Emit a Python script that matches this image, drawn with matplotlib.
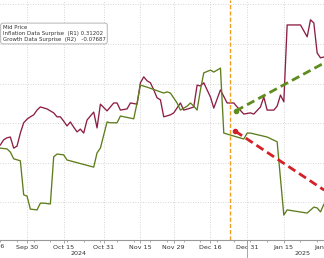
import matplotlib
matplotlib.use("Agg")
import matplotlib.pyplot as plt
import numpy as np

# business-day offsets from 2024-09-30
infl_days = [-8,-7,-6,-5,-4,-3,-2,-1,0,1,2,3,4,6,8,9,10,11,12,13,14,15,16,17,18,20,21,22,24,26,27,28,30,31,33,
             34,35,36,37,38,39,40,41,43,44,46,47,49,50,51,52,53,55,56,58,60,62,63,65,67,68,70,71,72,74,75,76,77,
             78,82,84,85,86,87,88,89]
infl_vals = [2.45,2.58,2.63,2.65,2.37,2.42,2.75,3.01,3.10,3.16,3.21,3.33,3.41,3.36,3.26,3.16,3.16,3.05,2.93,3.03,
             2.90,2.78,2.85,2.75,3.08,3.28,2.88,3.48,3.31,3.51,3.51,3.33,3.36,3.51,3.48,
             4.02,4.17,4.07,4.02,3.84,3.64,3.59,3.16,3.21,3.26,3.51,3.33,3.38,3.41,3.96,3.94,4.02,3.66,3.38,3.84,
             3.51,3.51,3.41,3.23,3.26,3.23,3.41,3.66,3.33,3.33,3.43,3.71,3.54,
             5.48,5.48,5.18,5.61,5.53,4.77,4.65,4.67]

growth_days = [-8,-6,-5,-4,-2,-1,0,1,3,4,5,7,8,9,11,12,20,21,22,24,25,27,28,32,33,34,36,41,42,43,45,46,48,49,50,
               51,52,53,55,56,58,59,65,66,67,72,75,76,77,78,84,86,87,88,89]
growth_vals = [2.37,2.35,2.27,2.10,2.05,1.19,1.16,0.83,0.81,0.98,0.98,0.96,2.15,2.22,2.20,2.07,1.89,2.25,2.37,
               3.03,3.01,3.01,3.18,3.11,3.51,3.96,3.91,3.76,3.79,3.76,3.51,3.33,3.43,3.51,3.43,
               3.33,3.84,4.27,4.34,4.29,4.39,2.75,2.60,2.75,2.75,2.65,2.53,1.60,0.68,0.81,0.73,0.88,0.86,0.76,0.95]

growth_trend_days = [62.6, 89.1]
growth_trend_vals = [3.31, 4.52]
infl_trend_days = [62.4, 89.1]
infl_trend_vals = [2.80, 1.31]

event_day = 61  # Dec 24
tick_labels = ["Sep 30", "Oct 15", "Oct 31", "Nov 15", "Nov 29", "Dec 16", "Dec 31", "Jan 15", "Jan 31"]
tick_days = [0, 11, 23, 34, 44, 55, 66, 77, 89]
edge_label = "Sep 16"
edge_label_day = -10
year_labels = ["2024", "2025"]
year_label_days = [15.6, 82.5]
year_break_day = 66

legend_lines = ["Mid Price",
                "Inflation Data Surprise  (R1) 0.31202",
                "Growth Data Surprise  (R2)   -0.07687"]

RED = "#8c1f45"
GREEN = "#5f7d1c"
TXT = "#333333"

fig = plt.figure(figsize=(3.24, 2.58), dpi=100)
ax = fig.add_axes([0, 18/258, 1, 240/258])
ax.set_xlim(-8.1, 89.05)
ax.set_ylim(0.05, 6.11)

ax.plot(infl_days, infl_vals, color=RED, lw=0.95, zorder=3)
ax.plot(growth_days, growth_vals, color=GREEN, lw=0.95, zorder=3)

ax.axvline(event_day, color="#f0a020", lw=1.0, ls=(0, (3, 1.5)), zorder=4)

ax.plot(growth_trend_days, growth_trend_vals, color="#5e8c1e", lw=2.0, ls=(0, (3, 1.6)), zorder=5)
ax.plot(growth_trend_days[0], growth_trend_vals[0], 'o', color="#5e8c1e", ms=3, zorder=5)
ax.plot(infl_trend_days, infl_trend_vals, color="#d42027", lw=2.0, ls=(0, (3, 1.6)), zorder=5)
ax.plot(infl_trend_days[0], infl_trend_vals[0], 'o', color="#d42027", ms=3, zorder=5)

for s in ["top", "left", "right"]:
    ax.spines[s].set_visible(False)
ax.spines["bottom"].set_color("#999999")
ax.spines["bottom"].set_linewidth(0.8)

ax.set_yticks(np.arange(1, 7, 1.0))
ax.tick_params(axis="y", left=False, labelleft=False)
ax.set_xticks(tick_days)
ax.set_xticklabels(tick_labels, fontsize=4.6, color=TXT)
ax.set_xticks(np.arange(-8, 90, 5), minor=True)
ax.tick_params(axis="x", which="major", length=2, width=0.6, color="#999999", pad=1.5)
ax.tick_params(axis="x", which="minor", length=1.5, width=0.6, color="#999999")
ax.grid(True, which="major", color="#c8c8c8", ls=(0, (1, 2)), lw=0.6)

xt = ax.get_xaxis_transform()
ax.text(edge_label_day, -0.016, edge_label, transform=xt, fontsize=4.6, color=TXT,
        ha="center", va="top", clip_on=False)
for d, lab in zip(year_label_days, year_labels):
    ax.text(d, -0.045, lab, transform=xt, fontsize=4.6, color=TXT,
            ha="center", va="top", clip_on=False)
ax.plot([year_break_day, year_break_day], [0, -0.075], transform=xt, color="#999999", lw=0.6, clip_on=False)

ax.text(0.008, 1 - 25/240, "\n".join(legend_lines), fontsize=3.9, color=TXT, va="top", ha="left",
        linespacing=1.25, zorder=6,
        bbox=dict(boxstyle="round,pad=0.35,rounding_size=0.4", fc="white", ec="#aaaaaa", lw=0.6),
        transform=ax.transAxes)

fig.savefig("out.png", dpi=100)
